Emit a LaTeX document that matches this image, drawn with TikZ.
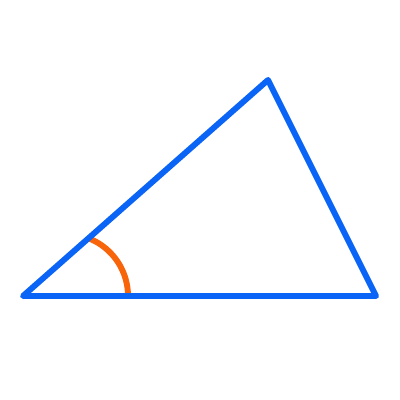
\documentclass[tikz,border=0pt]{standalone}
\usepackage{tikz}
\usepackage{xcolor}
\usetikzlibrary{positioning}

\definecolor{triblue}{HTML}{0A64F5}
\definecolor{arcorange}{HTML}{F8640A}

\begin{document}
\begin{tikzpicture}
            \useasboundingbox (0, 0) rectangle (10, 10);
            \coordinate (A) at (0.575, 2.6);
            \coordinate (B) at (6.7, 8.0);
            \coordinate (C) at (9.4, 2.6);
            \coordinate (arcstart) at (3.2, 2.6);

            \draw[arcorange, line width=4.2pt] (arcstart) arc[start angle=0, end angle=67, radius=1.55];
            \draw[triblue, line width=4.2pt, line join=round, line cap=round] (A) -- (B) -- (C) -- cycle;
        \end{tikzpicture}
\end{document}
